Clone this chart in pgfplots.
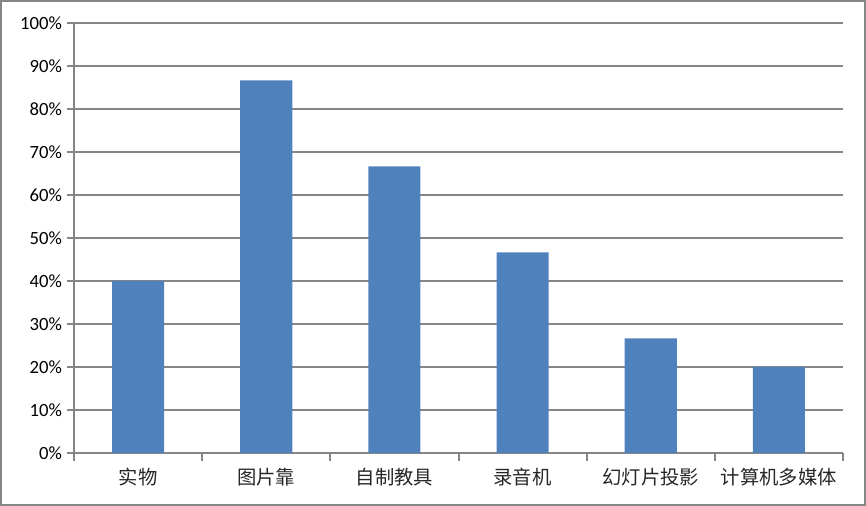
\documentclass[border=0pt]{standalone}
\usepackage{pgfplots}
\pgfplotsset{compat=1.18}
\usepackage{fontspec}
\setmainfont{Carlito}
\newfontfamily\cjk{Noto Sans CJK SC}
\definecolor{barblue}{HTML}{4F81BD}
\definecolor{gridgray}{HTML}{868686}
\begin{document}
\begin{tikzpicture}
% outer frame, 866 x 506 px at 0.75pt per px
\draw[gridgray, line width=1.5pt] (0.75pt,0.75pt) rectangle (648.75pt,378.75pt);
\begin{axis}[
    at={(55.5pt,39.75pt)}, anchor=south west,
    scale only axis,
    width=576.75pt, height=322.5pt,
    xmin=0, xmax=6,
    ymin=0, ymax=100,
    axis x line*=bottom, axis y line*=left,
    axis line style={gridgray, line width=1.5pt, -},
    xtick={0.5,1.5,2.5,3.5,4.5,5.5},
    xticklabels={实物,图片靠,自制教具,录音机,幻灯片投影,计算机多媒体},
    x tick label style={font=\cjk\fontsize{14.5}{15}\selectfont, text=black!85, yshift=-2.5pt},
    major x tick style={draw=none},
    minor xtick={0,1,2,3,4,5,6},
    minor tick length=6pt,
    minor x tick style={gridgray, line width=1.5pt},
    ytick={0,10,...,100},
    yticklabel={\pgfmathprintnumber{\tick}\%},
    y tick label style={font=\fontsize{14}{15}\selectfont, text=black},
    /pgf/number format/assume math mode=true,
    tick align=outside,
    major tick length=5.5pt,
    y tick style={gridgray, line width=1.5pt},
    ymajorgrids,
    grid style={gridgray, line width=1.5pt},
    clip=false,
]
\addplot[ybar, bar width=0.406, fill=barblue, draw=none] coordinates {
    (0.5, 40.00)
    (1.5, 86.67)
    (2.5, 66.67)
    (3.5, 46.67)
    (4.5, 26.67)
    (5.5, 20.00)
};
\end{axis}
\end{tikzpicture}
\end{document}
